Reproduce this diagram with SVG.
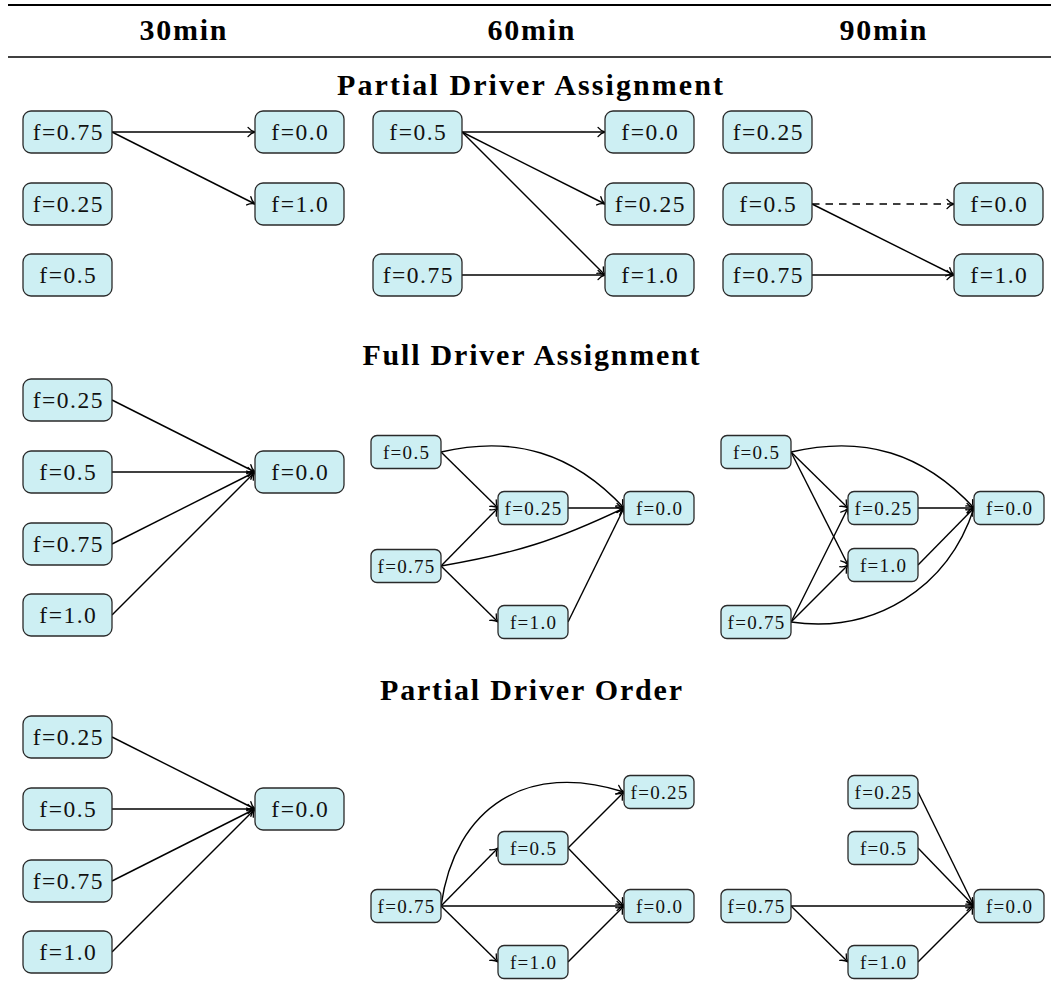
<svg xmlns="http://www.w3.org/2000/svg" width="1051" height="1001" viewBox="0 0 1051 1001">
  <style>
    .bg { fill: #ffffff; }
    .rule-top { stroke: #000; stroke-width: 2.2; }
    .rule-mid { stroke: #000; stroke-width: 1.3; }
    .hdr { font-family: "Liberation Serif", "Times New Roman", serif; font-weight: bold; font-size: 30px; text-anchor: middle; fill: #000; }
    .node rect { fill: #cdeff3; stroke: #2a2a2a; stroke-width: 1.3; }
    .big text { font-family: "Liberation Serif", "Times New Roman", serif; font-size: 23.5px; letter-spacing: 1.5px; text-anchor: middle; fill: #111; }
    .small text { font-family: "Liberation Serif", "Times New Roman", serif; font-size: 19px; letter-spacing: 1.3px; text-anchor: middle; fill: #111; }
    .edges path { fill: none; stroke: #000; stroke-width: 1.4; marker-end: url(#arrow); }
    .edges path.dash { stroke-dasharray: 7.5 6; }
  </style>
  <defs>
    <marker id="arrow" viewBox="-9 -6 11 12" refX="0" refY="0" markerWidth="11" markerHeight="12" orient="auto" markerUnits="userSpaceOnUse">
      <path d="M-7,-4.6 C-5,-2.1 -2.1,-0.45 0,0 C-2.1,0.45 -5,2.1 -7,4.6" fill="none" stroke="#000" stroke-width="1.3" stroke-linecap="round"/>
    </marker>
  </defs>

  <rect class="bg" x="0" y="0" width="1051" height="1001"/>

  <!-- table header -->
  <line class="rule-top" x1="8" y1="5" x2="1051" y2="5"/>
  <text class="hdr" x="183" y="40" textLength="87" lengthAdjust="spacing">30min</text>
  <text class="hdr" x="531" y="40" textLength="87" lengthAdjust="spacing">60min</text>
  <text class="hdr" x="883" y="40" textLength="87" lengthAdjust="spacing">90min</text>
  <line class="rule-mid" x1="8" y1="57" x2="1051" y2="57"/>

  <!-- section titles -->
  <text class="hdr" x="530" y="95" textLength="386" lengthAdjust="spacing">Partial Driver Assignment</text>
  <text class="hdr" x="531" y="365" textLength="337" lengthAdjust="spacing">Full Driver Assignment</text>
  <text class="hdr" x="531" y="700" textLength="302" lengthAdjust="spacing">Partial Driver Order</text>

  <!-- connectors -->
  <g id="connectors" class="edges">
    <!-- Partial Driver Assignment / 30min -->
    <path d="M112,132 L255,132"/>
    <path d="M112,132 L255,204"/>
    <!-- Partial Driver Assignment / 60min -->
    <path d="M462,132 L605,132"/>
    <path d="M462,132 L605,204"/>
    <path d="M462,132 L605,275"/>
    <path d="M462,275 L605,275"/>
    <!-- Partial Driver Assignment / 90min -->
    <path class="dash" d="M812,204 L954,204"/>
    <path d="M812,204 L954,275"/>
    <path d="M812,275 L954,275"/>

    <!-- Full Driver Assignment / 30min -->
    <path d="M112,400 L255,472"/>
    <path d="M112,472 L255,472"/>
    <path d="M112,544 L255,472"/>
    <path d="M112,615 L255,472"/>
    <!-- Full Driver Assignment / 60min -->
    <path d="M441,452 L498,508"/>
    <path d="M441,452 C514,435 573,453 624,508"/>
    <path d="M441,566 L498,508"/>
    <path d="M441,566 C515,553.5 556,540.5 624,508"/>
    <path d="M441,566 L498,622"/>
    <path d="M568,508 L624,508"/>
    <path d="M568,622 L624,508"/>
    <!-- Full Driver Assignment / 90min -->
    <path d="M791,452 L848,508"/>
    <path d="M791,452 L848,565"/>
    <path d="M791,452 C864,435 923,453 974,508"/>
    <path d="M791,622 L848,508"/>
    <path d="M791,622 L848,565"/>
    <path d="M791,622 C874.6,633.9 947.8,588.2 974,508"/>
    <path d="M918,508 L974,508"/>
    <path d="M918,565 L974,508"/>

    <!-- Partial Driver Order / 30min -->
    <path d="M112,737 L255,809"/>
    <path d="M112,809 L255,809"/>
    <path d="M112,881 L255,809"/>
    <path d="M112,952 L255,809"/>
    <!-- Partial Driver Order / 60min -->
    <path d="M441,906 L498,848"/>
    <path d="M441,906 L624,906"/>
    <path d="M441,906 L498,962"/>
    <path d="M441,906 C455,806 528,761 624,792"/>
    <path d="M568,848 L624,792"/>
    <path d="M568,848 L624,906"/>
    <path d="M568,962 L624,906"/>
    <!-- Partial Driver Order / 90min -->
    <path d="M918,792 L974,906"/>
    <path d="M918,848 L974,906"/>
    <path d="M791,906 L974,906"/>
    <path d="M791,906 L848,962"/>
    <path d="M918,962 L974,906"/>
  </g>

  <!-- Partial Driver Assignment nodes -->
  <g class="node big" id="pda30-f075"><rect x="23" y="111" width="89" height="42" rx="8"/><text x="68.3" y="140">f=0.75</text></g>
  <g class="node big" id="pda30-f025"><rect x="23" y="183" width="89" height="42" rx="8"/><text x="68.3" y="212">f=0.25</text></g>
  <g class="node big" id="pda30-f05"><rect x="23" y="254" width="89" height="42" rx="8"/><text x="68.3" y="283">f=0.5</text></g>
  <g class="node big" id="pda30-f00"><rect x="255" y="111" width="89" height="42" rx="8"/><text x="300.3" y="140">f=0.0</text></g>
  <g class="node big" id="pda30-f10"><rect x="255" y="183" width="89" height="42" rx="8"/><text x="300.3" y="212">f=1.0</text></g>

  <g class="node big" id="pda60-f05"><rect x="373" y="111" width="89" height="42" rx="8"/><text x="418.3" y="140">f=0.5</text></g>
  <g class="node big" id="pda60-f075"><rect x="373" y="254" width="89" height="42" rx="8"/><text x="418.3" y="283">f=0.75</text></g>
  <g class="node big" id="pda60-f00"><rect x="605" y="111" width="89" height="42" rx="8"/><text x="650.3" y="140">f=0.0</text></g>
  <g class="node big" id="pda60-f025"><rect x="605" y="183" width="89" height="42" rx="8"/><text x="650.3" y="212">f=0.25</text></g>
  <g class="node big" id="pda60-f10"><rect x="605" y="254" width="89" height="42" rx="8"/><text x="650.3" y="283">f=1.0</text></g>

  <g class="node big" id="pda90-f025"><rect x="723" y="111" width="89" height="42" rx="8"/><text x="768.3" y="140">f=0.25</text></g>
  <g class="node big" id="pda90-f05"><rect x="723" y="183" width="89" height="42" rx="8"/><text x="768.3" y="212">f=0.5</text></g>
  <g class="node big" id="pda90-f075"><rect x="723" y="254" width="89" height="42" rx="8"/><text x="768.3" y="283">f=0.75</text></g>
  <g class="node big" id="pda90-f00"><rect x="954" y="183" width="89" height="42" rx="8"/><text x="999.3" y="212">f=0.0</text></g>
  <g class="node big" id="pda90-f10"><rect x="954" y="254" width="89" height="42" rx="8"/><text x="999.3" y="283">f=1.0</text></g>

  <!-- Full Driver Assignment nodes -->
  <g class="node big" id="fda30-f025"><rect x="23" y="379" width="89" height="42" rx="8"/><text x="68.3" y="408">f=0.25</text></g>
  <g class="node big" id="fda30-f05"><rect x="23" y="451" width="89" height="42" rx="8"/><text x="68.3" y="480">f=0.5</text></g>
  <g class="node big" id="fda30-f075"><rect x="23" y="523" width="89" height="42" rx="8"/><text x="68.3" y="552">f=0.75</text></g>
  <g class="node big" id="fda30-f10"><rect x="23" y="594" width="89" height="42" rx="8"/><text x="68.3" y="623">f=1.0</text></g>
  <g class="node big" id="fda30-f00"><rect x="255" y="451" width="89" height="42" rx="8"/><text x="300.3" y="480">f=0.0</text></g>

  <g class="node small" id="fda60-f05"><rect x="371" y="435.5" width="70" height="33" rx="6"/><text x="406.6" y="458.7">f=0.5</text></g>
  <g class="node small" id="fda60-f025"><rect x="498" y="491.5" width="70" height="33" rx="6"/><text x="533.6" y="514.7">f=0.25</text></g>
  <g class="node small" id="fda60-f00"><rect x="624" y="491.5" width="70" height="33" rx="6"/><text x="659.6" y="514.7">f=0.0</text></g>
  <g class="node small" id="fda60-f075"><rect x="371" y="549.5" width="70" height="33" rx="6"/><text x="406.6" y="572.7">f=0.75</text></g>
  <g class="node small" id="fda60-f10"><rect x="498" y="605.5" width="70" height="33" rx="6"/><text x="533.6" y="628.7">f=1.0</text></g>

  <g class="node small" id="fda90-f05"><rect x="721" y="435.5" width="70" height="33" rx="6"/><text x="756.6" y="458.7">f=0.5</text></g>
  <g class="node small" id="fda90-f025"><rect x="848" y="491.5" width="70" height="33" rx="6"/><text x="883.6" y="514.7">f=0.25</text></g>
  <g class="node small" id="fda90-f10"><rect x="848" y="548.5" width="70" height="33" rx="6"/><text x="883.6" y="571.7">f=1.0</text></g>
  <g class="node small" id="fda90-f00"><rect x="974" y="491.5" width="70" height="33" rx="6"/><text x="1009.6" y="514.7">f=0.0</text></g>
  <g class="node small" id="fda90-f075"><rect x="721" y="605.5" width="70" height="33" rx="6"/><text x="756.6" y="628.7">f=0.75</text></g>

  <!-- Partial Driver Order nodes -->
  <g class="node big" id="pdo30-f025"><rect x="23" y="716" width="89" height="42" rx="8"/><text x="68.3" y="745">f=0.25</text></g>
  <g class="node big" id="pdo30-f05"><rect x="23" y="788" width="89" height="42" rx="8"/><text x="68.3" y="817">f=0.5</text></g>
  <g class="node big" id="pdo30-f075"><rect x="23" y="860" width="89" height="42" rx="8"/><text x="68.3" y="889">f=0.75</text></g>
  <g class="node big" id="pdo30-f10"><rect x="23" y="931" width="89" height="42" rx="8"/><text x="68.3" y="960">f=1.0</text></g>
  <g class="node big" id="pdo30-f00"><rect x="255" y="788" width="89" height="42" rx="8"/><text x="300.3" y="817">f=0.0</text></g>

  <g class="node small" id="pdo60-f025"><rect x="624" y="775.5" width="70" height="33" rx="6"/><text x="659.6" y="798.7">f=0.25</text></g>
  <g class="node small" id="pdo60-f05"><rect x="498" y="831.5" width="70" height="33" rx="6"/><text x="533.6" y="854.7">f=0.5</text></g>
  <g class="node small" id="pdo60-f075"><rect x="371" y="889.5" width="70" height="33" rx="6"/><text x="406.6" y="912.7">f=0.75</text></g>
  <g class="node small" id="pdo60-f00"><rect x="624" y="889.5" width="70" height="33" rx="6"/><text x="659.6" y="912.7">f=0.0</text></g>
  <g class="node small" id="pdo60-f10"><rect x="498" y="945.5" width="70" height="33" rx="6"/><text x="533.6" y="968.7">f=1.0</text></g>

  <g class="node small" id="pdo90-f025"><rect x="848" y="775.5" width="70" height="33" rx="6"/><text x="883.6" y="798.7">f=0.25</text></g>
  <g class="node small" id="pdo90-f05"><rect x="848" y="831.5" width="70" height="33" rx="6"/><text x="883.6" y="854.7">f=0.5</text></g>
  <g class="node small" id="pdo90-f075"><rect x="721" y="889.5" width="70" height="33" rx="6"/><text x="756.6" y="912.7">f=0.75</text></g>
  <g class="node small" id="pdo90-f00"><rect x="974" y="889.5" width="70" height="33" rx="6"/><text x="1009.6" y="912.7">f=0.0</text></g>
  <g class="node small" id="pdo90-f10"><rect x="848" y="945.5" width="70" height="33" rx="6"/><text x="883.6" y="968.7">f=1.0</text></g>
</svg>
